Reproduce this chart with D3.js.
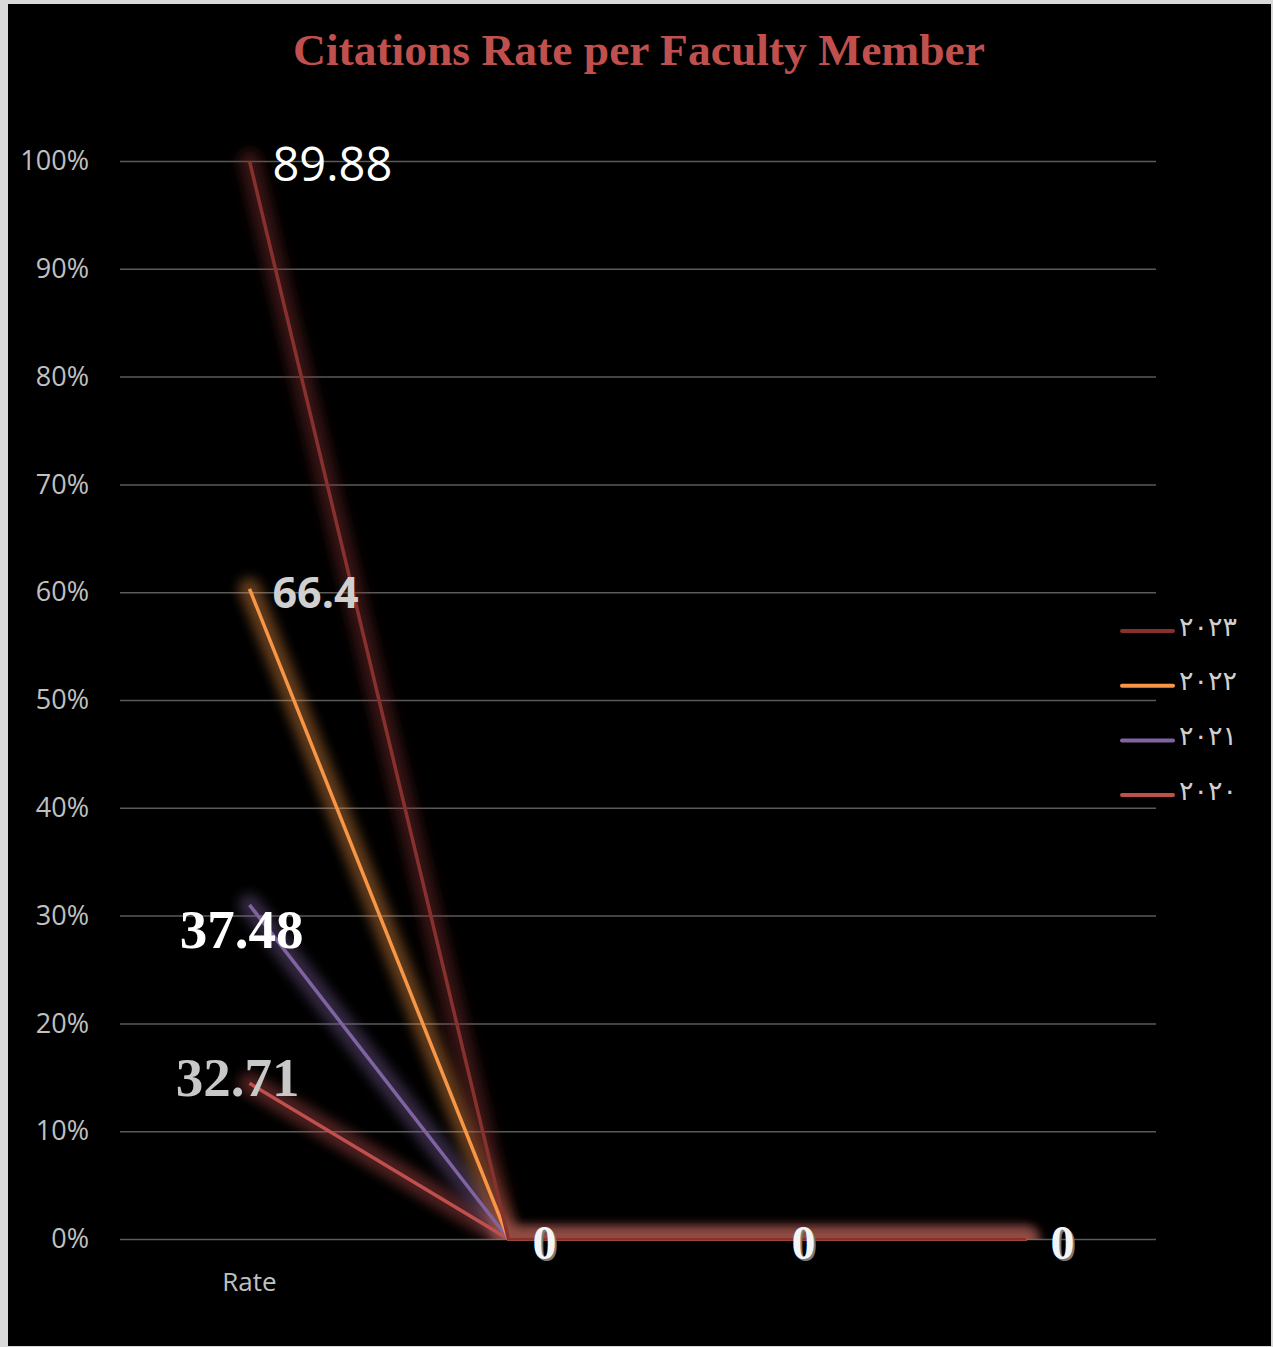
<!DOCTYPE html>
<html>
<head>
<meta charset="utf-8">
<script src="https://cdn.jsdelivr.net/npm/d3@7"></script>
<style>
  body { margin: 0; background: #d9d9d9; }
  svg { display: block; }
</style>
</head>
<body>
<div id="chart"></div>
<script>
// data
const categories = ["Rate", "", "", ""]
const seriesNames = ["٢٠٢٠", "٢٠٢١", "٢٠٢٢", "٢٠٢٣"]
const values2020 = [32.71, 0, 0, 0]
const values2021 = [37.48, 0, 0, 0]
const values2022 = [66.4, 0, 0, 0]
const values2023 = [89.88, 0, 0, 0]
const yTicks = [0, 0.1, 0.2, 0.3, 0.4, 0.5, 0.6, 0.7, 0.8, 0.9, 1]

const allValues = [values2020, values2021, values2022, values2023]
const colors = ["#c0504d", "#8064a2", "#f79646", "#86312e"]

// label placement for the first point of each series (relative to the point)
const labelStyle = [
  {dx: -12, dy: -6, anchor: "middle", fill: "#c8c8c8", font: "'Liberation Serif', serif", weight: 700, size: 55},
  {dx: -8, dy: 25, anchor: "middle", fill: "#ffffff", font: "'Liberation Serif', serif", weight: 700, size: 55},
  {dx: 23, dy: 3, anchor: "start", fill: "#d0d0d0", font: "'Open Sans', sans-serif", weight: 700, size: 43},
  {dx: 23, dy: 2, anchor: "start", fill: "#ffffff", font: "'Open Sans', sans-serif", weight: 400, size: 47}
]

const width = 1273, height = 1347
const margin = {left: 120, right: 117, top: 161, bottom: 108}

const svg = d3.select("#chart").append("svg")
  .attr("width", width)
  .attr("height", height)

svg.append("rect")
  .attr("x", 8).attr("y", 4)
  .attr("width", 1263).attr("height", 1342)
  .attr("fill", "#000")

const defs = svg.append("defs")
defs.append("filter")
  .attr("id", "glow")
  .attr("x", "-50%").attr("y", "-50%").attr("width", "200%").attr("height", "200%")
  .append("feGaussianBlur")
  .attr("stdDeviation", 6)
defs.append("clipPath").attr("id", "plotclip")
  .append("rect")
  .attr("x", 0).attr("y", 0)
  .attr("width", width).attr("height", height - margin.bottom + 1)

const x = d3.scaleBand()
  .domain(d3.range(categories.length))
  .range([margin.left, width - margin.right])
const y = d3.scaleLinear()
  .domain([0, 1])
  .range([height - margin.bottom, margin.top])

// title
svg.append("text")
  .attr("x", 639)
  .attr("y", 65)
  .attr("text-anchor", "middle")
  .attr("fill", "#c0504d")
  .attr("font-family", "'Liberation Serif', serif")
  .attr("font-weight", 700)
  .attr("font-size", 44)
  .attr("textLength", 692)
  .attr("lengthAdjust", "spacingAndGlyphs")
  .text("Citations Rate per Faculty Member")

// grid + y axis
const yAxis = d3.axisLeft(y)
  .tickValues(yTicks)
  .tickFormat(d3.format(".0%"))
  .tickSize(-(width - margin.left - margin.right))
  .tickPadding(31)

svg.append("g")
  .attr("transform", `translate(${margin.left},0)`)
  .call(yAxis)
  .call(g => g.select(".domain").remove())
  .call(g => g.selectAll(".tick line").attr("stroke", "#5a5a5a").attr("stroke-width", 1.5))
  .call(g => g.selectAll(".tick text")
    .attr("fill", "#c0c0c0")
    .attr("font-family", "'Open Sans', sans-serif")
    .attr("font-size", 27))

// x axis labels
svg.append("g")
  .selectAll("text")
  .data(categories)
  .join("text")
  .attr("x", (d, i) => x(i) + x.bandwidth() / 2)
  .attr("y", height - margin.bottom + 52)
  .attr("text-anchor", "middle")
  .attr("fill", "#c0c0c0")
  .attr("font-family", "'Open Sans', sans-serif")
  .attr("font-size", 26)
  .text(d => d)

// 100% stacked
const table = categories.map((c, i) => {
  const row = {i}
  seriesNames.forEach((s, k) => row[s] = allValues[k][i])
  return row
})
const stacked = d3.stack().keys(seriesNames).offset(d3.stackOffsetExpand)(table)

const line = d3.line()
  .x((d, i) => x(i) + x.bandwidth() / 2)
  .y(d => y(d[1]))

const glowG = svg.append("g").attr("clip-path", "url(#plotclip)")
glowG.selectAll("path")
  .data(stacked)
  .join("path")
  .attr("d", line)
  .attr("fill", "none")
  .attr("stroke", (d, k) => colors[k])
  .attr("stroke-width", 22)
  .attr("stroke-opacity", 0.4)
  .attr("stroke-linecap", "round")
  .attr("filter", "url(#glow)")

svg.append("g")
  .selectAll("path")
  .data(stacked)
  .join("path")
  .attr("d", line)
  .attr("fill", "none")
  .attr("stroke", (d, k) => colors[k])
  .attr("stroke-width", 3.5)
  .attr("stroke-linejoin", "round")

// data labels: first point of every series
svg.append("g")
  .selectAll("text")
  .data(stacked)
  .join("text")
  .attr("x", (d, k) => x(0) + x.bandwidth() / 2 + labelStyle[k].dx)
  .attr("y", (d, k) => y(d[0][1]) + labelStyle[k].dy)
  .attr("dominant-baseline", "central")
  .attr("text-anchor", (d, k) => labelStyle[k].anchor)
  .attr("fill", (d, k) => labelStyle[k].fill)
  .attr("font-family", (d, k) => labelStyle[k].font)
  .attr("font-weight", (d, k) => labelStyle[k].weight)
  .attr("font-size", (d, k) => labelStyle[k].size)
  .text((d, k) => allValues[k][0])

// zero labels of the top series
const topSeries = stacked[stacked.length - 1]
const zeros = topSeries.map((d, i) => ({d, i})).filter(o => o.i > 0)
const zg = svg.append("g")
;[{off: 2, fill: "#7a7a7a"}, {off: 0, fill: "#f4f4f4"}].forEach(s => {
  zg.append("g")
    .selectAll("text")
    .data(zeros)
    .join("text")
    .attr("x", o => x(o.i) + x.bandwidth() / 2 + 36 + s.off)
    .attr("y", o => y(o.d[1]) + 3 + s.off)
    .attr("dominant-baseline", "central")
    .attr("text-anchor", "middle")
    .attr("fill", s.fill)
    .attr("font-family", "'Liberation Serif', serif")
    .attr("font-weight", 700)
    .attr("font-size", 48)
    .text(o => allValues[3][o.i])
})

// legend
const legendOrder = d3.range(seriesNames.length).reverse()
const legend = svg.append("g")
  .selectAll("g")
  .data(legendOrder)
  .join("g")
  .attr("transform", (k, j) => `translate(1122,${631 + j * 54.7})`)
legend.append("line")
  .attr("x1", 0).attr("x2", 51)
  .attr("stroke", k => colors[k])
  .attr("stroke-width", 4)
  .attr("stroke-linecap", "round")
legend.append("text")
  .attr("x", 57)
  .attr("y", -5)
  .attr("dominant-baseline", "central")
  .attr("fill", "#d0d0d0")
  .attr("font-family", "'DejaVu Sans', sans-serif")
  .attr("font-size", 27)
  .attr("letter-spacing", 6)
  .attr("direction", "ltr")
  .text(k => seriesNames[k])
</script>
</body>
</html>
